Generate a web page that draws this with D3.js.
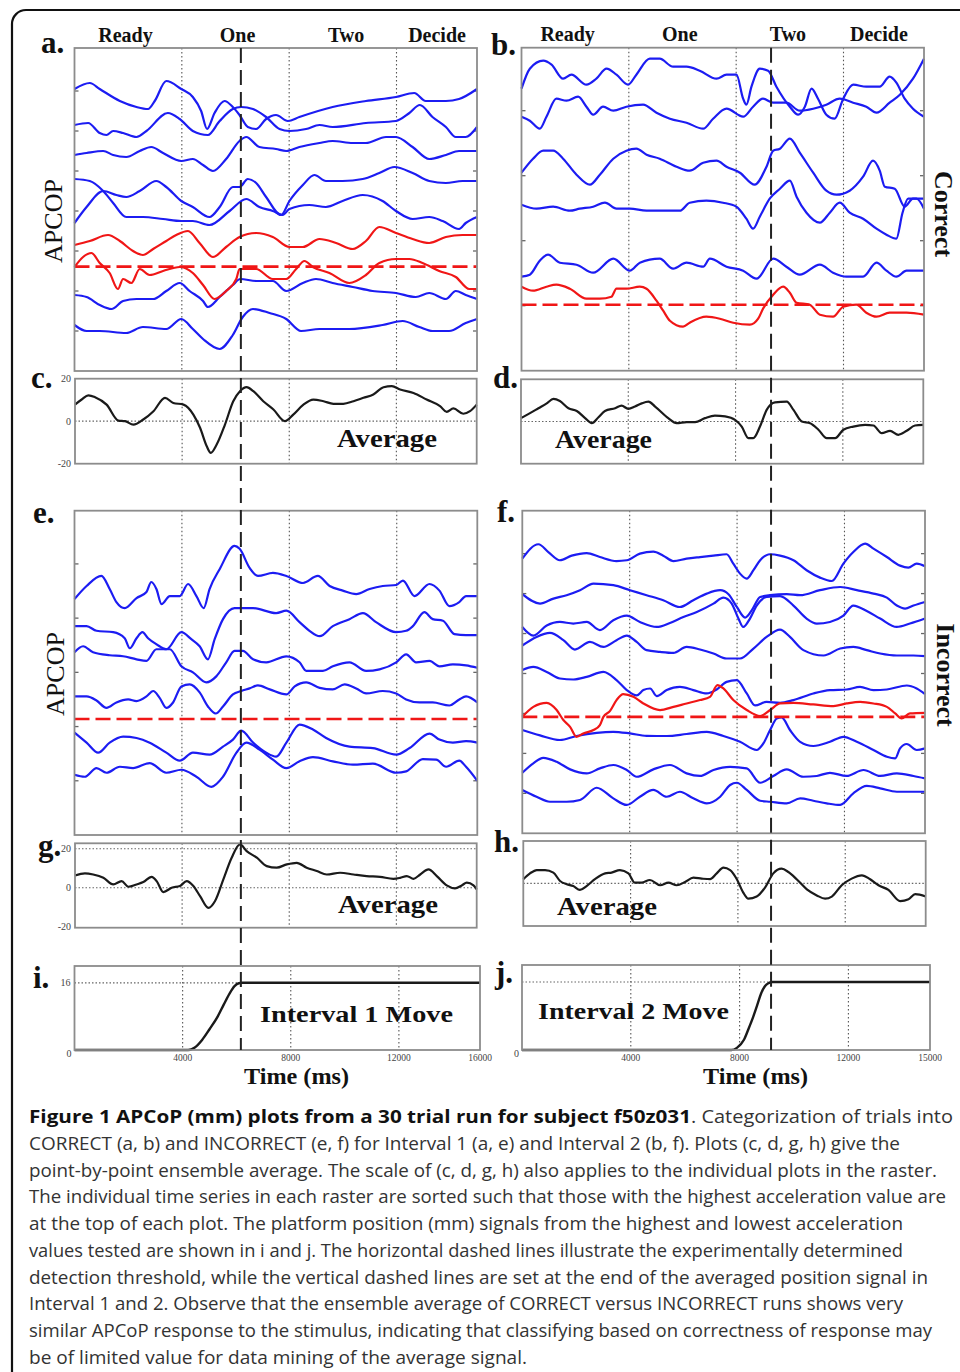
<!DOCTYPE html>
<html><head><meta charset="utf-8">
<script src="https://cdn.jsdelivr.net/npm/d3@7"></script>
<style>body{margin:0;background:#fff}svg{display:block}</style>
</head><body>
<svg id="fig" width="960" height="1372"></svg>
<script>
// ================= DATA =================
const stageLabels = ["Ready", "One", "Two", "Decide"];
const stageTimesLeft = [1900, 6075, 10120, 13510];   // ms, label centres, column 1
const stageTimesRight = [1720, 5900, 9930, 13320];   // ms, label centres, column 2
const gridTimes = [4000, 8000, 12000];
const eventTimeLeft = 6200;   // end of averaged position signal, interval 1 (ms)
const eventTimeRight = 9300;  // interval 2 (ms)
const posTickTimes = [0, 4000, 8000, 12000, 15000];
const posTickLabelsI = ["4000", "8000", "12000", "16000"];
const posTickLabelsJ = ["4000", "8000", "12000", "15000"];
const avgTickValues = [20, 0, -20];
const avgTickLabels = ["20", "0", "-20"];
const posLevel = 16;

// raster tick values (mm)
const ticksA = [20, 40, 60, 80, 100, 120, 140];
const ticksB = [32.5, 65, 97.5, 130];
const ticksE = [27, 54, 81, 108, 135];
const ticksF = [20, 40, 60, 80, 100, 120, 140];

// detection thresholds (mm, raster offset units)
const thresholdA = 52.2, thresholdB = 33, thresholdE = 57.8, thresholdF = 58.3;

// ----- panel a (CORRECT, interval 1) -----
const aBlue = [
 [[0,141],[570,144],[940,141],[1690,135],[2310,132],[2740,131],[2990,135],[3420,145],[3980,141],[4410,137],[4720,130],[4940,121],[5220,129],[5590,135],[5900,132],[6150,128],[6460,122],[6770,121],[7140,126],[7510,128],[7950,125],[8380,127],[9620,132],[10860,135],[11980,137],[12660,139],[13090,135],[13840,135],[14330,136],[15000,141]],
 [[0,123],[510,124],[940,119],[1190,118],[1440,120],[1810,119],[2310,117],[2680,120],[3480,129],[3920,126],[4410,120],[4970,118],[5410,125],[5900,131],[6210,132],[6650,131],[7140,127],[7640,121],[8010,120],[8630,121],[9130,123],[9620,122],[10860,124],[11980,125],[12480,129],[12870,133],[13340,127],[13840,122],[14210,117],[14580,117],[15000,122]],
 [[0,108],[450,109],[1070,110],[1440,108],[1930,107],[2430,110],[2860,112],[3300,109],[3980,105],[4410,106],[4790,103],[5160,100],[5650,106],[6150,115],[6400,117],[6890,112],[7510,111],[7890,110],[8380,112],[9130,114],[9620,115],[10370,114],[10860,114],[11610,117],[11980,117],[12600,112],[13220,106],[13840,108],[14330,110],[15000,110]],
 [[0,96],[570,95],[1070,90],[1440,84],[1930,77],[2550,77],[3300,76],[3980,75],[4410,75],[5030,73],[5780,80],[6400,86],[6890,82],[7390,80],[7760,78],[8010,81],[8750,83],[9370,82],[9990,85],[10740,88],[11480,85],[11980,80],[12600,76],[13220,77],[13720,75],[14330,71],[14580,74],[15000,77]],
 [[0,74],[450,82],[1070,90],[1560,88],[1930,87],[2430,90],[3050,95],[3420,92],[3980,85],[4410,82],[5030,77],[5410,82],[5900,92],[6150,92],[6460,96],[6770,94],[7140,87],[7700,78],[8010,85],[8510,93],[8940,98],[9370,95],[9990,95],[10740,96],[11360,99],[11920,102],[12600,99],[13220,95],[13840,94],[14460,95],[15000,95]],
 [[0,38],[450,37],[940,33],[1380,31],[1810,35],[2310,36],[2930,36],[3420,40],[3920,44],[4290,40],[4790,35],[4970,32],[5410,37],[5900,43],[6180,46],[6770,45],[7390,45],[7890,40],[8510,44],[9000,46],[9620,44],[10370,42],[11110,40],[11980,39],[12720,37],[13220,39],[13840,36],[14210,40],[14580,38],[15000,36]],
 [[0,23],[450,20],[940,20],[1930,19],[2550,22],[3420,21],[3980,26],[4410,21],[4790,16],[5410,11],[5900,18],[6270,27],[6650,31],[7270,29],[7890,26],[8440,20],[9130,21],[10240,21],[11480,23],[12230,25],[12850,22],[13340,20],[13960,20],[14580,24],[15000,26]]
];
const aRed = [
 [[0,63],[570,65],[1250,68],[1690,65],[2180,60],[2550,58],[2930,61],[3420,65],[3790,68],[4230,70],[4660,64],[5160,57],[5650,62],[6150,67],[6770,69],[7390,67],[8010,62],[8510,62],[9130,66],[9750,64],[10370,61],[10860,65],[11360,72],[11980,69],[12600,66],[13220,64],[13840,67],[14460,68],[15000,68]],
 [[0,52],[320,57],[630,59],[940,54],[1310,49],[1620,41],[1810,46],[2120,44],[2430,51],[2800,48],[3300,50],[3920,52],[4410,49],[4790,43],[5220,36],[5650,40],[6030,46],[6150,51],[6770,51],[7390,46],[7890,46],[8260,51],[8570,55],[8880,52],[9500,49],[10240,44],[10860,48],[11360,54],[11980,56],[12480,56],[12970,54],[13590,50],[14210,47],[14710,41],[15000,41]]
];

// ----- panel b (CORRECT, interval 2) -----
const bBlue = [
 [[0,141],[310,151],[810,155],[1120,153],[1550,146],[1860,148],[2420,143],[2790,146],[3170,151],[3540,148],[3970,143],[4280,148],[4780,156],[5150,156],[5650,152],[6150,152],[6640,150],[7270,146],[7640,148],[8010,148],[8260,136],[8380,133],[8570,142],[8880,151],[9190,150],[9500,142],[10000,132],[10310,128],[10560,132],[10810,141],[11050,136],[11360,128],[11670,126],[11990,136],[12360,143],[12850,142],[13350,142],[13720,147],[13970,144],[14280,136],[14590,131],[15000,127]],
 [[0,127],[310,125],[680,121],[930,127],[1300,136],[1680,135],[2110,137],[2420,132],[2670,128],[3040,132],[3420,130],[3910,132],[4530,133],[5030,129],[5530,126],[6150,124],[6770,121],[7140,126],[7640,131],[8260,127],[8630,132],[9000,136],[9380,134],[9870,134],[10370,130],[10870,131],[11360,133],[11860,136],[12360,134],[12850,132],[13230,129],[13720,134],[14100,138],[14590,146],[15000,156]],
 [[0,99],[430,106],[810,110],[1180,110],[1550,106],[2050,98],[2550,93],[2920,98],[3420,106],[3910,110],[4280,111],[4660,108],[5150,106],[5780,102],[6270,100],[6770,104],[7270,105],[7640,102],[8140,99],[8690,93],[9130,102],[9380,110],[9630,111],[10000,116],[10370,109],[10870,99],[11360,90],[11740,88],[12230,90],[12730,97],[13100,105],[13350,100],[13540,92],[13910,91],[14280,82],[14590,86],[15000,86]],
 [[0,83],[560,81],[1180,82],[1800,80],[2170,81],[2670,82],[3110,84],[3540,81],[4040,81],[4660,80],[5280,80],[5900,80],[6270,84],[6890,85],[7510,84],[8010,82],[8380,76],[8630,71],[8880,77],[9250,86],[9630,91],[10000,95],[10250,87],[10620,79],[11120,74],[11490,79],[11860,84],[12230,79],[12730,76],[13230,71],[13600,68],[13970,66],[14200,79],[14410,86],[14720,86],[15000,81]],
 [[0,47],[310,48],[680,55],[990,58],[1430,54],[2050,53],[2670,49],[3420,56],[4040,50],[4410,54],[5150,56],[5650,51],[6150,54],[6770,52],[7020,56],[7640,52],[8260,50],[8760,46],[9380,56],[9870,52],[10370,48],[11120,53],[11610,49],[12110,47],[12730,47],[13230,54],[13600,50],[13970,47],[14350,50],[15000,50]]
];
const bRed = [
 [[0,42],[430,40],[930,42],[1300,43],[1800,41],[2420,36],[2920,36],[3350,37],[3540,41],[3910,41],[4410,42],[4660,41],[5030,35],[5280,30],[5530,25],[6020,22],[6270,24],[6890,27],[7390,26],[7890,24],[8510,23],[8820,26],[9000,31],[9380,38],[9750,42],[10000,39],[10250,34],[10740,33],[11120,28],[11610,27],[11990,32],[12480,33],[12850,29],[13230,27],[13720,29],[14350,29],[15000,28]]
];

// ----- panel e (INCORRECT, interval 1) -----
const eBlue = [
 [[0,117.5],[450,124],[1000,129],[1310,122.5],[1560,116],[1870,113],[2310,118],[2680,121],[2860,126],[3050,122.5],[3240,115],[3550,119],[3920,119],[4230,125],[4540,119],[4810,113],[5030,122.5],[5410,132.5],[5960,144],[6150,142.5],[6520,133],[6830,129],[7390,130.5],[7890,129],[8510,125.5],[9060,129],[9500,124],[9990,121.7],[10490,120],[10990,122.5],[11480,124],[11980,124.5],[12230,126.7],[12660,119],[13220,125],[13590,121.7],[13960,114],[14330,116],[14580,119],[15000,119]],
 [[0,104],[450,104],[820,101.7],[1440,101],[1870,98],[2060,93],[2310,98],[2530,101],[2740,98],[3050,95],[3420,92.5],[3980,101],[4350,97.5],[4660,94],[4970,87.5],[5220,97.5],[5530,107.5],[5960,113],[6650,113],[7510,110.5],[7890,111.7],[8380,106],[8750,101.7],[9130,99],[9620,104],[10240,107.5],[10740,110.5],[11230,106],[11980,101],[12350,101.7],[12600,104],[13030,111],[13340,107.5],[13720,106.7],[14150,100],[14580,99.5],[15000,99.5]],
 [[0,91],[320,94],[690,91],[1310,89.5],[1810,89],[2310,87.5],[2680,86.7],[3050,92.5],[3550,92.5],[3980,84],[4410,81],[4910,76],[5280,79],[5650,86],[5960,91.7],[6270,91.7],[6650,87.5],[7140,86],[7890,89],[8380,86],[8630,81.7],[9250,81.7],[9620,84],[10240,86],[10860,81.7],[11360,82.5],[11980,86],[12350,90],[12720,86],[13220,86.7],[13590,84],[14090,85],[14580,84.5],[15000,83.3]],
 [[0,69],[450,69],[820,67],[1190,63.3],[1560,66],[2000,67.5],[2310,66.7],[2680,69],[2930,71.7],[3170,68.3],[3420,63.3],[3670,66],[3980,74],[4290,75],[4660,71],[4970,64],[5260,60.5],[5530,64],[5900,70],[6210,71.7],[6520,73],[6830,74.5],[7270,72.5],[7890,70],[8200,74],[8630,76],[9130,73.3],[9620,72.5],[10060,75],[10490,73],[10860,70.5],[11480,71.7],[11980,70.5],[12350,67.5],[12850,66],[13340,66],[13960,64.5],[14330,67.5],[14580,69],[15000,66]],
 [[0,51],[450,46],[880,41],[1310,46],[1810,49],[2310,48.3],[2800,46],[3420,41],[3920,37],[4410,41],[5030,40],[5530,44],[5900,47.5],[6210,52],[6650,46],[7140,41],[7510,39],[7890,46],[8380,55],[8880,52.5],[9370,48.3],[10240,44],[11110,43.3],[11980,40],[12480,43.3],[13220,50.5],[13590,47.5],[14090,46],[14580,46.7],[15000,46]],
 [[0,30],[380,29],[820,33.3],[1190,31],[1690,34],[2180,33.3],[2800,35.8],[3420,31],[3980,32.5],[4540,29],[5100,24],[5530,29],[6030,41],[6400,46],[6890,42.5],[7390,37.5],[7890,33.3],[8380,36.7],[8880,38.8],[9620,36.7],[10370,35],[11110,35.5],[11980,31],[12350,31.7],[12970,37.8],[13470,37.5],[13840,34],[14330,37],[14580,34],[15000,27]]
];
const eRed = [];

// ----- panel f (INCORRECT, interval 2) -----
const fBlue = [
 [[0,137.5],[600,144.7],[970,140.8],[1400,136.7],[1840,139],[2400,140.3],[2890,138.3],[3510,136.3],[3890,136.7],[4380,140],[4880,141],[5250,139],[5630,136.3],[6120,137.5],[6620,138.3],[7120,139],[7610,139.7],[7860,135],[8110,130],[8360,127.5],[8610,131.7],[8860,136.7],[9230,139.7],[9600,139],[10100,136.7],[10590,131.7],[11090,128],[11530,126.3],[11960,135],[12330,140.8],[12770,145],[13080,142.5],[13580,138.3],[14070,134],[14380,133],[14690,135],[15000,133.7]],
 [[0,119.7],[660,115],[1160,117.5],[1650,119.2],[2150,121.7],[2650,125],[3390,124.2],[4010,121.7],[4630,119.2],[5250,116.7],[5870,113.3],[6370,116.7],[6870,120],[7370,121.7],[7680,119.7],[7990,113.3],[8300,108],[8550,111.7],[8860,118.3],[9230,119.2],[9850,119.7],[10350,119.2],[11090,121.7],[11840,123.3],[12460,121.7],[13080,120],[13580,118],[13950,114],[14260,112.5],[14570,114],[15000,115.8]],
 [[0,103.3],[410,99],[910,104],[1400,105.8],[1900,105],[2400,105.8],[2890,101.7],[3390,106.7],[3890,109],[4380,105.8],[5010,103.3],[5500,105.3],[6000,108.3],[6500,110.8],[7120,115],[7490,118],[7800,115],[8050,107.5],[8230,103.3],[8480,107.5],[8730,114],[9100,118.3],[9600,118.7],[10100,114],[10590,107.5],[10970,105],[11460,105.8],[11960,109],[12330,114],[12830,111.3],[13330,107.5],[13950,103.3],[14440,105],[15000,107.5]],
 [[0,94],[530,98.3],[1030,100.3],[1530,96.7],[1960,92],[2520,95.8],[3020,93.3],[3510,96.7],[3890,99],[4260,95.8],[4630,91.7],[5130,90.8],[5630,90.3],[6120,93.3],[6620,92],[7120,90],[7610,87.5],[8110,87.5],[8610,92.5],[9100,98.3],[9600,102],[9970,98.3],[10470,91.7],[11220,89],[11840,92.5],[12330,93.3],[12830,91.7],[13330,90],[13950,89],[14570,89],[15000,88.7]],
 [[0,81.7],[410,83.3],[910,80.8],[1400,77.5],[1900,77],[2400,78.3],[3020,80.8],[3510,76.7],[3890,71.7],[4260,69],[4510,71.7],[4760,72.5],[5010,68.7],[5380,71.7],[5870,73.3],[6370,71.7],[6870,70],[7240,72],[7610,75.8],[7990,76.7],[8360,70],[8670,64],[9100,65.8],[9600,65.3],[10100,66.7],[10840,70],[11460,71.7],[12080,72],[12580,73.3],[13080,71.7],[13580,72],[14320,74],[14690,72.5],[15000,69.7]],
 [[0,51.7],[660,49],[1400,46.7],[2020,48.7],[2770,50.3],[3390,50.8],[4010,50],[4630,48.8],[5380,48.7],[6120,49.7],[6870,50.8],[7490,48.7],[8110,45.8],[8730,41.7],[8980,45],[9230,51.7],[9480,57.5],[9660,58],[9970,51.7],[10350,45.8],[10840,43.7],[11460,45.8],[11960,48.3],[12460,45.8],[13080,41.7],[13580,38.3],[13890,37.5],[14070,42.5],[14320,44.7],[14690,41.7],[15000,42.5]],
 [[0,30.3],[410,35],[780,37.8],[1280,35.8],[1780,32],[2400,30],[2890,32.5],[3390,34.2],[3890,31.7],[4260,28.3],[4880,32],[5500,34.2],[6120,30],[6620,28.7],[7120,31.7],[7740,33.3],[8360,32.5],[8860,25.3],[9350,28.7],[9850,32],[10470,28.3],[10970,28.7],[11460,30.3],[12080,28.7],[12710,31.7],[13330,28.7],[13950,30],[14570,28.7],[15000,27.5]],
 [[0,21.7],[530,18.3],[1030,15.8],[1650,15.8],[2150,16.7],[2770,22.8],[3390,17.5],[3890,14.2],[4380,18.3],[4880,21.7],[5380,18.3],[5870,20.8],[6370,17.5],[6870,15],[7370,18.3],[7740,24.2],[7990,25.3],[8360,21.7],[8860,16.3],[9230,15.8],[9850,15],[10350,17.5],[10840,16.3],[11340,15],[11840,14.2],[12330,20],[12830,23.7],[13330,22.5],[13950,20.8],[14570,20.8],[15000,20.8]]
];
const fRed = [
 [[0,58.3],[410,63.3],[910,65.3],[1280,61.7],[1530,56.7],[1780,53.3],[2020,48.3],[2270,50],[2650,51.7],[2890,54.2],[3020,58.3],[3270,61.3],[3510,66.7],[3760,69.7],[4140,68.3],[4510,65],[5130,61.7],[5630,63.3],[6120,65],[6620,66.7],[6990,68.3],[7270,74.2],[7490,72.5],[7860,66.7],[8360,61.7],[8860,58.7],[9230,61.7],[9600,65],[10100,65.3],[10840,64.5],[11590,63.7],[12080,65],[12580,65.8],[13080,65],[13580,63.3],[13890,60],[14130,57.5],[14440,60],[15000,60.3]]
];

// ----- ensemble averages (mm) -----
const avgC = [[0,7.8],[250,10.2],[500,12.2],[750,11.3],[1180,7.8],[1620,0.3],[1870,0],[2180,-1.6],[2550,0.8],[2930,4.7],[3360,11],[3670,8.6],[4050,7.8],[4420,3.1],[4670,-3.1],[4920,-11.8],[5070,-14.9],[5290,-11],[5600,-1.6],[5910,9.4],[6160,14.1],[6410,16],[6660,14.1],[7030,9.4],[7410,5.5],[7840,0],[8150,3.1],[8530,7.8],[8900,10.2],[9280,9.4],[9650,8.2],[10020,8.2],[10400,9.4],[10770,11],[11140,12.6],[11520,16],[11830,16.5],[12140,14.9],[12640,13.3],[13130,10.2],[13630,7.1],[13880,4.4],[14130,6],[14500,3.5],[14750,4.7],[15000,7.8]];
const avgD = [[0,1.6],[270,3.5],[650,6.3],[960,8.6],[1210,10.7],[1450,9.7],[1770,6.3],[2080,5],[2390,1.6],[2640,-0.8],[2880,1.9],[3130,5],[3510,6.3],[3750,7.5],[4000,6],[4250,7.1],[4500,8.6],[4750,9.4],[5000,7.1],[5490,1.6],[5800,-0.8],[6180,-0.3],[6490,-0.3],[6860,1.6],[7230,2.8],[7610,2.4],[7980,0.8],[8230,-2.4],[8480,-7.9],[8660,-7.9],[8910,-2.4],[9160,5.5],[9470,9.1],[9910,9.4],[10160,5.5],[10470,0],[10780,-0.8],[11090,-3.9],[11400,-7.9],[11710,-7.9],[12020,-3.9],[12390,-2.4],[12830,-1.6],[13140,-1.9],[13450,-5.5],[13760,-4.4],[14070,-6.3],[14380,-4.4],[14690,-1.9],[15000,-1.6]];
const avgG = [[0,6.3],[370,7.4],[680,6.8],[1060,5.1],[1430,1.7],[1740,3.4],[1990,0.5],[2300,1.7],[2550,2.9],[2860,5.6],[3050,3.4],[3300,-2.2],[3610,0],[3920,0.9],[4170,3.4],[4420,0.9],[4670,-4.3],[4980,-10.3],[5230,-6.8],[5540,4.3],[5850,15.4],[6160,22.2],[6410,18.8],[6790,15.4],[7160,11.1],[7530,10.3],[7910,12],[8280,12.8],[8650,10.3],[9030,8.6],[9400,6.8],[9900,7.7],[10400,6.8],[10890,6],[11390,5.6],[11890,4.6],[12140,5.1],[12390,6],[12640,4.6],[12890,6.8],[13200,9.4],[13510,6],[13880,1.2],[14190,-0.3],[14440,1.2],[14630,2.6],[14880,1.2],[15000,-0.9]];
const avgH = [[0,2.1],[250,5.1],[500,6.8],[810,6.8],[1120,5.5],[1370,1.2],[1620,-0.5],[1860,-1.4],[2110,-3.4],[2360,-1.4],[2670,2.1],[3050,5.1],[3290,5.5],[3600,6.8],[3920,5.1],[4160,0.3],[4410,0.3],[4720,1.7],[5100,-1],[5410,0.3],[5720,-1],[6030,0.7],[6340,2.9],[6650,2.4],[6960,2.1],[7210,5.1],[7460,8],[7710,6.8],[7960,2.1],[8200,-4.8],[8390,-7.9],[8700,-6.8],[9010,-2.2],[9320,5.1],[9630,7.5],[9880,5.8],[10190,2.1],[10570,-3.1],[10940,-6.2],[11250,-7.9],[11500,-6.8],[11870,-1],[12240,2.4],[12620,4.1],[12930,2.1],[13240,-1],[13610,-3.4],[14050,-9.1],[14360,-8.2],[14610,-5.6],[15000,-6.8]];

// ----- platform position (mm) -----
const posI = [[0,0],[4200,0],[4450,0.6],[4720,2.4],[5000,5],[5290,7.9],[5520,10.8],[5740,13.5],[5920,15.2],[6080,15.9],[6200,16],[15000,16]];
const posJ = [[0,0],[7700,0],[7900,0.5],[8160,2.4],[8330,5],[8500,7.8],[8650,10.6],[8790,13.3],[8930,15],[9060,15.7],[9200,16],[15000,16]];

const captionBold = "Figure 1 APCoP (mm) plots from a 30 trial run for subject f50z031";
const captionLines = [
 ". Categorization of trials into",
 "CORRECT (a, b) and INCORRECT (e, f) for Interval 1 (a, e) and Interval 2 (b, f). Plots (c, d, g, h) give the",
 "point-by-point ensemble average. The scale of (c, d, g, h) also applies to the individual plots in the raster.",
 "The individual time series in each raster are sorted such that those with the highest acceleration value are",
 "at the top of each plot. The platform position (mm) signals from the highest and lowest acceleration",
 "values tested are shown in i and j. The horizontal dashed lines illustrate the experimentally determined",
 "detection threshold, while the vertical dashed lines are set at the end of the averaged position signal in",
 "Interval 1 and 2. Observe that the ensemble average of CORRECT versus INCORRECT runs shows very",
 "similar APCoP response to the stimulus, indicating that classifying based on correctness of response may",
 "be of limited value for data mining of the average signal."
];

// ================= LAYOUT =================
const P = {
 a:{x0:74.5,x1:477,y0:48,y1:371},
 b:{x0:521.5,x1:924,y0:47.7,y1:370.7},
 c:{x0:75,x1:476.7,y0:378.7,y1:463.7},
 d:{x0:521,x1:923.3,y0:379.3,y1:463.7},
 e:{x0:74.5,x1:477.3,y0:510.7,y1:835},
 f:{x0:522.3,x1:925,y0:510.7,y1:833.3},
 g:{x0:75,x1:476.7,y0:843.3,y1:927.7},
 h:{x0:523.3,x1:925.7,y0:841,y1:926},
 i:{x0:74.5,x1:480,y0:966,y1:1050},
 j:{x0:522,x1:930,y0:965,y1:1050}
};
const SERIF = "'Liberation Serif','Times New Roman',serif";
const BLUE = "#1c1cf2", RED = "#f01616", BOXC = "#8c8c8c", GRIDC = "#555";

const svg = d3.select("#fig");
svg.append("rect").attr("width",960).attr("height",1372).attr("fill","#fff");

// outer frame
svg.append("path").attr("d","M12,1375 V24 A14,14 0 0 1 26,10 H965")
  .attr("fill","none").attr("stroke","#111").attr("stroke-width",2.2);

const xScale = p => d3.scaleLinear().domain([0,15000]).range([p.x0,p.x1]);
const lineGen = (x,y) => d3.line().x(d=>x(d[0])).y(d=>y(d[1])).curve(d3.curveMonotoneX);

function drawBox(g,p){
  g.append("rect").attr("x",p.x0).attr("y",p.y0).attr("width",p.x1-p.x0).attr("height",p.y1-p.y0)
   .attr("fill","none").attr("stroke",BOXC).attr("stroke-width",1.8);
}
function vGrid(g,p,x){
  g.selectAll(null).data(gridTimes).enter().append("line")
   .attr("x1",d=>x(d)).attr("x2",d=>x(d)).attr("y1",p.y0).attr("y2",p.y1)
   .attr("stroke",GRIDC).attr("stroke-width",1.1).attr("stroke-dasharray","1.5,2.5");
}
function hDotted(g,p,yv){
  g.append("line").attr("x1",p.x0).attr("x2",p.x1).attr("y1",yv).attr("y2",yv)
   .attr("stroke","#666").attr("stroke-width",1.2).attr("stroke-dasharray","1.5,2");
}

function raster(p, blues, reds, thr, ticks){
  const x = xScale(p), y = d3.scaleLinear().domain([0,161.5]).range([p.y1,p.y0]);
  const g = svg.append("g");
  vGrid(g,p,x);
  ticks.forEach(v=>{
    g.append("line").attr("x1",p.x0).attr("x2",p.x0+4).attr("y1",y(v)).attr("y2",y(v)).attr("stroke","#666").attr("stroke-width",1.3);
    g.append("line").attr("x1",p.x1).attr("x2",p.x1-4).attr("y1",y(v)).attr("y2",y(v)).attr("stroke","#666").attr("stroke-width",1.3);
  });
  const lg = lineGen(x,y);
  g.selectAll(null).data(blues).enter().append("path").attr("d",lg)
   .attr("fill","none").attr("stroke",BLUE).attr("stroke-width",2.2).attr("stroke-linejoin","round");
  g.selectAll(null).data(reds).enter().append("path").attr("d",lg)
   .attr("fill","none").attr("stroke",RED).attr("stroke-width",2.2).attr("stroke-linejoin","round");
  g.append("line").attr("x1",p.x0).attr("x2",p.x1).attr("y1",y(thr)).attr("y2",y(thr))
   .attr("stroke",RED).attr("stroke-width",2.6).attr("stroke-dasharray","15,6");
  drawBox(g,p);
}

function average(p, data, dom, dottedVals, showTicks){
  const x = xScale(p), y = d3.scaleLinear().domain(dom).range([p.y1,p.y0]);
  const g = svg.append("g");
  vGrid(g,p,x);
  dottedVals.forEach(v=>hDotted(g,p,y(v)));
  g.append("path").attr("d",lineGen(x,y)(data)).attr("fill","none").attr("stroke","#1a1a1a").attr("stroke-width",2.2);
  drawBox(g,p);
  if(showTicks){
    g.selectAll(null).data(avgTickValues).enter().append("text")
     .attr("x",p.x0-4).attr("y",d=>y(d)+3.5).attr("text-anchor","end")
     .attr("font-family",SERIF).attr("font-size",10).attr("fill","#444")
     .text((d,k)=>avgTickLabels[k]);
  }
}

function position(p, data, labels){
  const x = xScale(p), y = d3.scaleLinear().domain([0,20]).range([p.y1,p.y0]);
  const g = svg.append("g");
  vGrid(g,p,x);
  hDotted(g,p,y(posLevel));
  g.append("path").attr("d",lineGen(x,y)(data)).attr("fill","none").attr("stroke","#1a1a1a").attr("stroke-width",2.4);
  drawBox(g,p);
  g.selectAll(null).data(posTickTimes.slice(1)).enter().append("text")
   .attr("x",d=>x(d)).attr("y",p.y1+11).attr("text-anchor","middle")
   .attr("font-family",SERIF).attr("font-size",9.5).attr("fill","#444")
   .text((d,k)=>labels[k]);
  g.append("text").attr("x",x(0)-3).attr("y",p.y1+7).attr("text-anchor","end")
   .attr("font-family",SERIF).attr("font-size",10).attr("fill","#444").text("0");
  return {x,y,g};
}

raster(P.a, aBlue, aRed, thresholdA, ticksA);
raster(P.b, bBlue, bRed, thresholdB, ticksB);
raster(P.e, eBlue, eRed, thresholdE, ticksE);
raster(P.f, fBlue, fRed, thresholdF, ticksF);
average(P.c, avgC, [-20,20], [0], true);
average(P.d, avgD, [-20,20], [0], false);
average(P.g, avgG, [-20.5,22.8], [0,20], true);
average(P.h, avgH, [-21.9,21.7], [0], false);
const pi = position(P.i, posI, posTickLabelsI);
position(P.j, posJ, posTickLabelsJ);
pi.g.append("text").attr("x",P.i.x0-4).attr("y",pi.y(posLevel)+3.5).attr("text-anchor","end")
  .attr("font-family",SERIF).attr("font-size",10).attr("fill","#444").text("16");

// long vertical dashed event lines
[[P.a, eventTimeLeft],[P.b, eventTimeRight]].forEach(([p,t])=>{
  const xv = xScale(p)(t);
  svg.append("line").attr("x1",xv).attr("x2",xv).attr("y1",p.y0).attr("y2",1050)
   .attr("stroke","#222").attr("stroke-width",2).attr("stroke-dasharray","15,7");
});

// stage headers
function headers(p, times, yb){
  const x = xScale(p);
  svg.selectAll(null).data(stageLabels).enter().append("text")
   .attr("x",(d,k)=>x(times[k])).attr("y",yb).attr("text-anchor","middle")
   .attr("font-family",SERIF).attr("font-weight","bold").attr("font-size",20).attr("fill","#111")
   .text(d=>d);
}
headers(P.a, stageTimesLeft, 42);
headers(P.b, stageTimesRight, 41);

// panel letters
const letters = [["a.",41,53],["b.",491,55],["c.",31,388],["d.",493,388],["e.",33,523],["f.",497,522],["g.",38,856],["h.",494,852],["i.",33,988],["j.",495,983]];
svg.selectAll(null).data(letters).enter().append("text")
  .attr("x",d=>d[1]).attr("y",d=>d[2]).attr("font-family",SERIF).attr("font-weight","bold")
  .attr("font-size",31).attr("fill","#111").text(d=>d[0]);

// rotated axis labels
function rot(txt,x,y,angle,size,weight){
  svg.append("text").attr("transform",`translate(${x},${y}) rotate(${angle})`).attr("text-anchor","middle")
   .attr("font-family",SERIF).attr("font-size",size).attr("font-weight",weight).attr("fill","#111").text(txt);
}
rot("APCOP",62,221,-90,26,"normal");
rot("APCOP",64,674,-90,26,"normal");
rot("Correct",935,214,90,26,"bold");
rot("Incorrect",937,675,90,26,"bold");

// in-panel texts
function label(txt,x0,x1,yb,size){
  svg.append("text").attr("x",x0).attr("y",yb).attr("font-family",SERIF).attr("font-weight","bold")
   .attr("font-size",size).attr("fill","#111").attr("textLength",x1-x0).attr("lengthAdjust","spacingAndGlyphs").text(txt);
}
label("Average",337,437,447,25);
label("Average",555,652,448,25);
label("Average",338,438,913,25);
label("Average",557,657,915,25);
label("Interval 1 Move",260,453,1022,23);
label("Interval 2 Move",538,729,1019,23);
label("Time (ms)",244,349,1084,24);
label("Time (ms)",703,808,1084,24);

// caption
const CAP = "'Open Sans','Noto Sans',sans-serif";
const capBase = 1123.3, capStep = 26.7, capX = 29;
const capEnds = [953,900,937,946,903,903,928,903,932,527];
svg.append("text").attr("x",capX).attr("y",capBase).attr("font-family",CAP).attr("font-weight","bold")
  .attr("font-size",18).attr("fill","#111").attr("textLength",691-capX).attr("lengthAdjust","spacingAndGlyphs").text(captionBold);
captionLines.forEach((t,k)=>{
  const xs0 = k===0 ? 691 : capX;
  svg.append("text").attr("x",xs0).attr("y",capBase+k*capStep).attr("font-family",CAP)
   .attr("font-size",18).attr("fill","#333").attr("textLength",capEnds[k]-xs0).attr("lengthAdjust","spacingAndGlyphs").text(t);
});
</script>
</body></html>
